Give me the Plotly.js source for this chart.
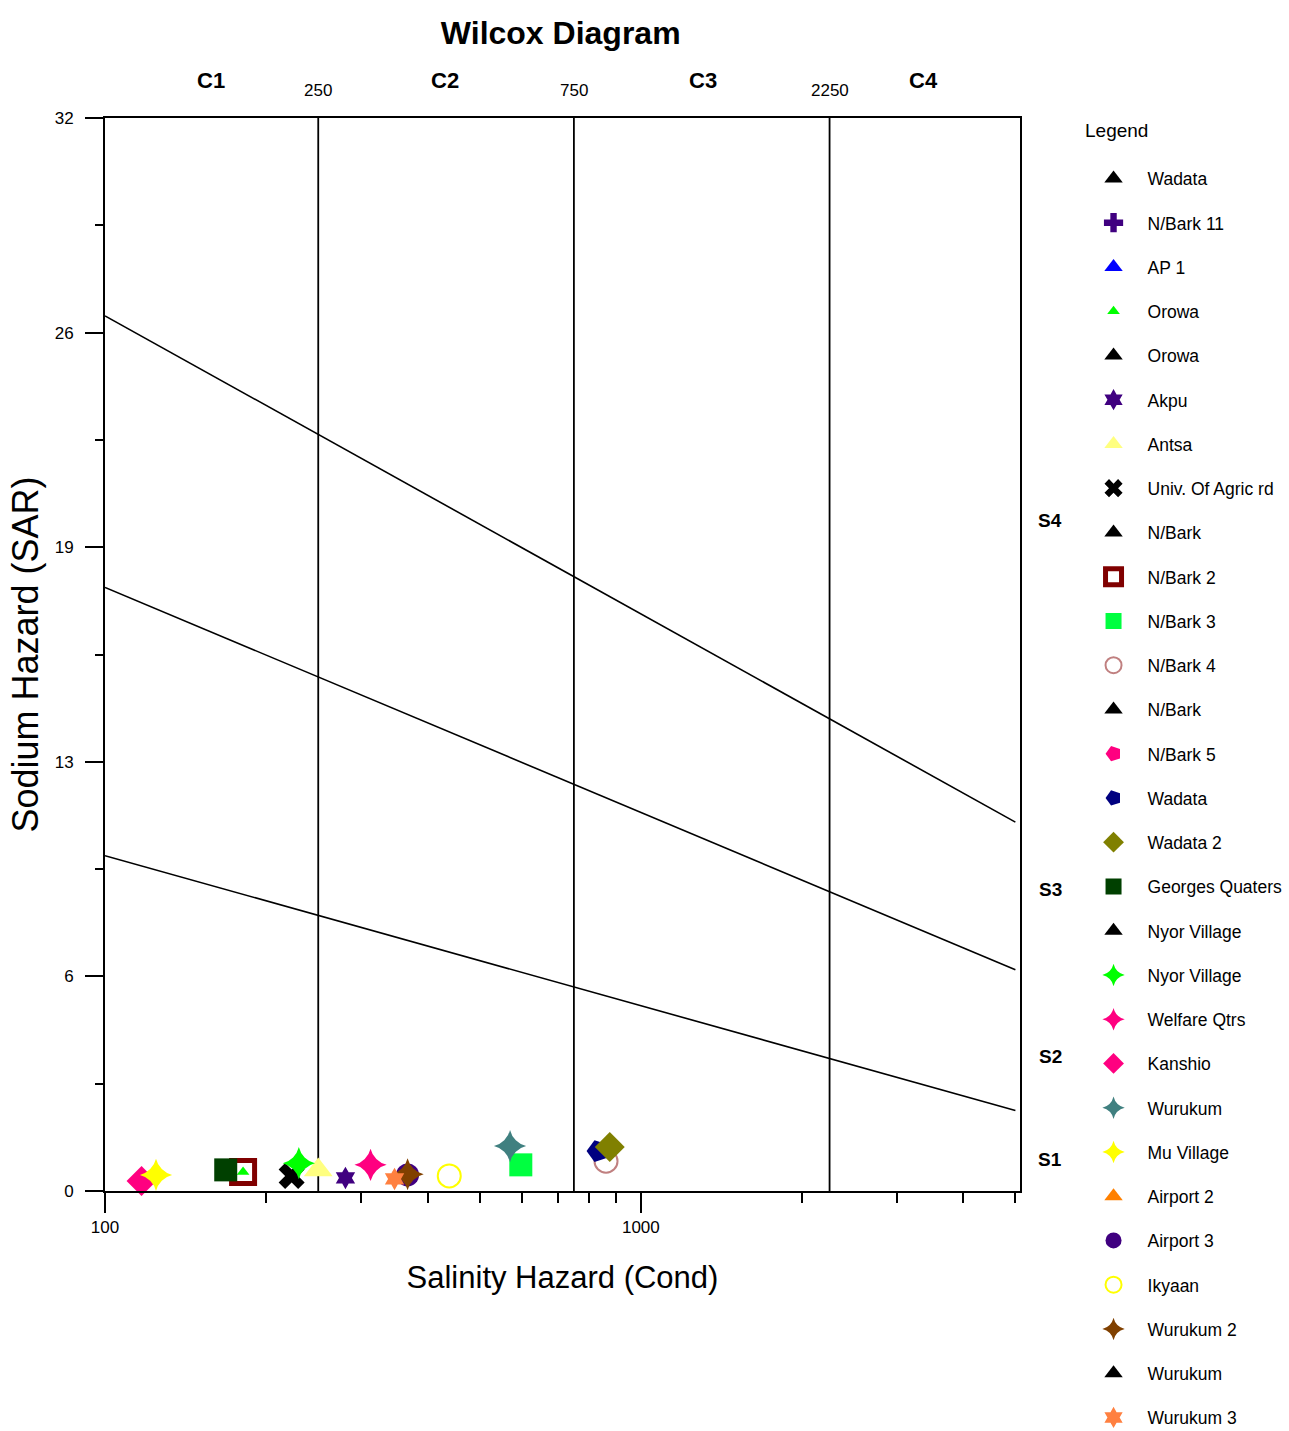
<!DOCTYPE html>
<html>
<head>
<meta charset="utf-8">
<script src="https://cdn.plot.ly/plotly-3.0.1.min.js"></script>
<style>html,body{margin:0;padding:0;background:#fff;}#chart{width:1289px;height:1431px;}</style>
</head>
<body>
<div id="chart"></div>
<script>
// ---- data ----
var sampleNames = ["Wadata","N/Bark 11","AP 1","Orowa","Orowa","Akpu","Antsa","Univ. Of Agric rd","N/Bark","N/Bark 2","N/Bark 3","N/Bark 4","N/Bark","N/Bark 5","Wadata","Wadata 2","Georges Quaters","Nyor Village","Nyor Village","Welfare Qtrs","Kanshio","Wurukum","Mu Village","Airport 2","Airport 3","Ikyaan","Wurukum 2","Wurukum","Wurukum 3"];
var conductivity = [null,null,null,181,null,281,250,223,null,181,597,861,null,null,832,875,168,null,230,313,117,570,124.5,null,367,439,367,null,347];
var sar = [null,null,null,0.57,null,0.39,0.63,0.45,null,0.57,0.78,0.89,null,null,1.19,1.31,0.63,null,0.83,0.78,0.30,1.34,0.48,null,0.48,0.45,0.50,null,0.36];

var boundaryCond = [250, 750, 2250];
var lineEndsCond = [100, 5000];
var lineS1S2 = [10.0, 2.4];
var lineS2S3 = [18.0, 6.6];
var lineS3S4 = [26.1, 11.0];

var yTickVals = [0, 6.4, 12.8, 19.2, 25.6, 32];
var yTickText = ["0", "6", "13", "19", "26", "32"];
var yMinorVals = [3.2, 9.6, 16, 22.4, 28.8];
var xTickVals = [100, 1000];
var xTickText = ["100", "1000"];
var xMinorVals = [200,300,400,500,600,700,800,900,2000,3000,4000,5000];
var classLabels = ["C1", "C2", "C3", "C4"];
var classLabelPos = [158, 431, 1306, 3373];
var sodiumLabels = ["S4", "S3", "S2", "S1"];
var sodiumLabelPos = [20.0, 9.0, 4.0, 0.95];

// ---- styles (per legend entry) ----
var styles = [
  {s:"triangle-up", c:"#000000"},
  {s:"cross", c:"#400080"},
  {s:"triangle-up", c:"#0000ff"},
  {s:"triangle-up", c:"#00ff00", z:11},
  {s:"triangle-up", c:"#000000"},
  {s:"hexagram", c:"#400080", z:17},
  {s:"triangle-up", c:"#ffff80"},
  {s:"x", c:"#000000"},
  {s:"triangle-up", c:"#000000"},
  {s:"square-open", c:"#800000", lw:5},
  {s:"square", c:"#00ff40"},
  {s:"circle-open", c:"#c08080", lw:2},
  {s:"triangle-up", c:"#000000"},
  {s:"pentagon", c:"#ff0080", a:-90},
  {s:"pentagon", c:"#000080", a:-90},
  {s:"diamond", c:"#808000"},
  {s:"square", c:"#004000"},
  {s:"triangle-up", c:"#000000"},
  {s:"star-diamond", c:"#00ff00"},
  {s:"star-diamond", c:"#ff0080"},
  {s:"diamond", c:"#ff0080"},
  {s:"star-diamond", c:"#408080"},
  {s:"star-diamond", c:"#ffff00"},
  {s:"triangle-up", c:"#ff8000"},
  {s:"circle", c:"#400080"},
  {s:"circle-open", c:"#ffff00", lw:2},
  {s:"star-diamond", c:"#804000"},
  {s:"triangle-up", c:"#000000"},
  {s:"hexagram", c:"#ff8040", z:17}
];

var traces = [];
boundaryCond.forEach(function(v){
  traces.push({x:[v, v], y:[0, 32], mode:"lines", line:{color:"#000", width:1.8}, showlegend:false, hoverinfo:"skip"});
});
[lineS1S2, lineS2S3, lineS3S4].forEach(function(l){
  traces.push({x:lineEndsCond, y:l, mode:"lines", line:{color:"#000", width:1.6}, showlegend:false, hoverinfo:"skip"});
});

sampleNames.forEach(function(n, i){
  var st = styles[i];
  var m = {symbol:st.s, color:st.c, size: st.z || (st.s === "triangle-up" ? 25 : 23)};
  if (st.lw) m.line = {color:st.c, width:st.lw};
  else m.line = {width:0};
  if (st.a) m.angle = st.a;
  traces.push({
    x:[conductivity[i]], y:[sar[i]], name:n, mode:"markers", type:"scatter",
    marker:m, legendgroup:"g"+i, cliponaxis:false
  });
});

var narrow = "Liberation Sans Narrow, Arial Narrow, Liberation Sans, Arial, sans-serif";
var ann = [];
classLabels.forEach(function(t, i){
  ann.push({text:"<b>"+t+"</b>", x:Math.log10(classLabelPos[i]), y:1.035, xref:"x", yref:"paper", showarrow:false, font:{family:"Liberation Sans, Arial, sans-serif", size:22, color:"#000"}, xanchor:"center", yanchor:"middle"});
});
boundaryCond.forEach(function(v){
  ann.push({text:String(v), x:Math.log10(v), y:1.026, xref:"x", yref:"paper", showarrow:false, font:{family:narrow, size:17, color:"#000"}, xanchor:"center", yanchor:"middle"});
});
sodiumLabels.forEach(function(t, i){
  ann.push({text:"<b>"+t+"</b>", x:1.033, y:sodiumLabelPos[i], xref:"paper", yref:"y", showarrow:false, font:{family:narrow, size:19, color:"#000"}, xanchor:"center", yanchor:"middle"});
});
ann.push({text:"Legend", x:1.069, y:0.988, xref:"paper", yref:"paper", showarrow:false, xanchor:"left", yanchor:"middle", font:{family:narrow, size:19, color:"#000"}});

var layout = {
  width:1289, height:1431,
  margin:{l:105, r:269, t:118, b:240},
  paper_bgcolor:"#fff", plot_bgcolor:"#fff",
  font:{family:"Liberation Sans, Arial, sans-serif", color:"#000"},
  title:{text:"<b>Wilcox Diagram</b>", x:0.435, xref:"container", y:0.977, yref:"container", yanchor:"middle", font:{size:32, color:"#000"}},
  xaxis:{
    type:"log", range:[2, Math.log10(5100)],
    showline:true, linecolor:"#000", linewidth:2, mirror:true,
    showgrid:false, zeroline:false,
    tickmode:"array", tickvals:xTickVals, ticktext:xTickText,
    ticks:"outside", ticklen:20, tickwidth:2, tickcolor:"#000",
    tickfont:{family:narrow, size:17, color:"#000"},
    minor:{tickmode:"array", tickvals:xMinorVals, ticks:"outside", ticklen:10, tickwidth:2, tickcolor:"#000", showgrid:false},
    title:{text:"Salinity Hazard (Cond)", font:{size:31, color:"#000"}, standoff:30}
  },
  yaxis:{
    range:[0, 32],
    showline:true, linecolor:"#000", linewidth:2, mirror:true,
    showgrid:false, zeroline:false,
    tickmode:"array", tickvals:yTickVals, ticktext:yTickText,
    ticks:"outside", ticklen:18, tickwidth:2, tickcolor:"#000",
    ticklabelstandoff:8,
    tickfont:{family:narrow, size:17, color:"#000"},
    minor:{tickmode:"array", tickvals:yMinorVals, ticks:"outside", ticklen:8, tickwidth:2, tickcolor:"#000", showgrid:false},
    title:{text:"Sodium Hazard (SAR)", font:{size:36, color:"#000"}, standoff:5}
  },
  showlegend:true,
  legend:{
    xref:"container", yref:"container",
    x:0.8375, xanchor:"left", y:0.8878, yanchor:"top",
    traceorder:"grouped", tracegroupgap:18.5,
    itemwidth:58, itemsizing:"trace",
    maxheight:3000,
    font:{family:narrow, size:17.5, color:"#000"},
    bgcolor:"rgba(0,0,0,0)"
  },
  annotations:ann
};

Plotly.newPlot("chart", traces, layout, {displayModeBar:false, staticPlot:true});
</script>
</body>
</html>
